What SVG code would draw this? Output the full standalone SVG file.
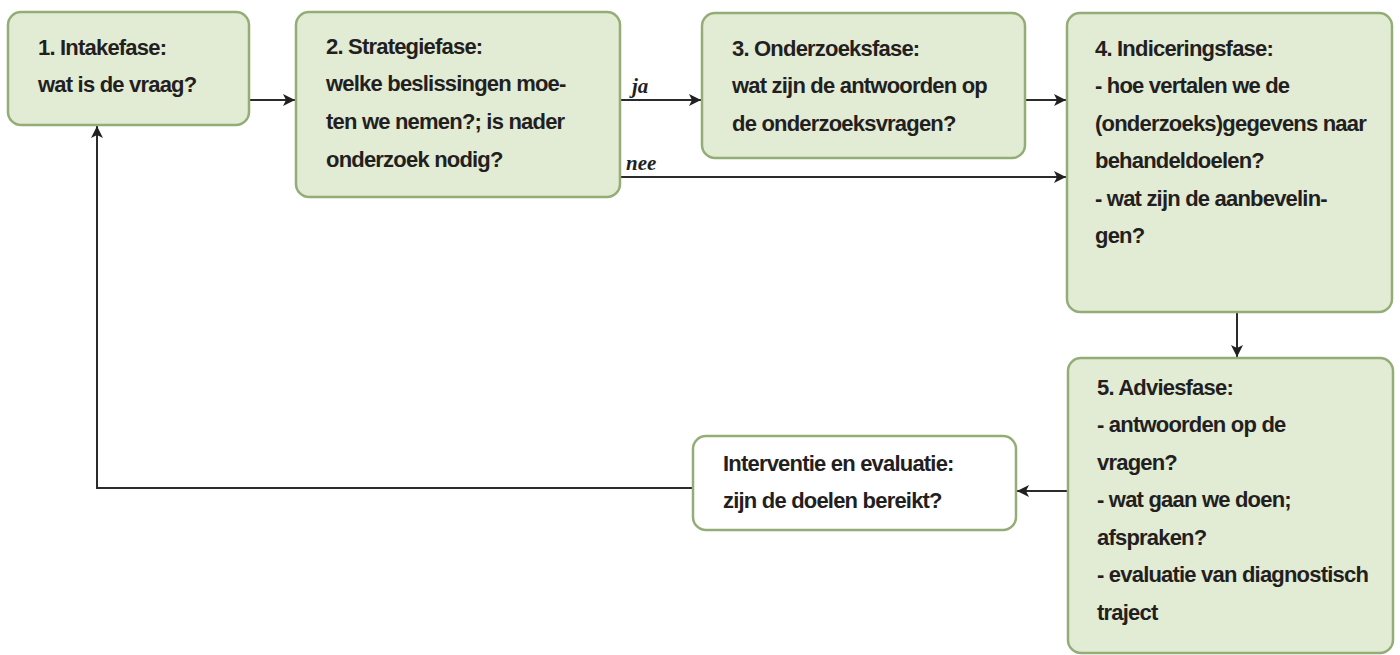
<svg xmlns="http://www.w3.org/2000/svg" width="1400" height="655" viewBox="0 0 1400 655">
<style>
.box{fill:#e2ebd4;stroke:#94ad76;stroke-width:2.5}
.wbox{fill:#ffffff;stroke:#94ad76;stroke-width:2.5}
.t{font-family:"Liberation Sans",Arial,sans-serif;font-size:22px;font-weight:bold;fill:#231f20;letter-spacing:-0.8px}
.lbl{font-family:"Liberation Serif","Times New Roman",serif;font-size:21px;font-style:italic;font-weight:bold;fill:#231f20}
.c{fill:none;stroke:#2b2b2b;stroke-width:2}
</style>
<defs>
<marker id="ah" viewBox="0 0 10 10" refX="10" refY="5" markerWidth="14" markerHeight="12" markerUnits="userSpaceOnUse" orient="auto">
<path d="M0,0 L10,5 L0,10 L2.5,5 Z" fill="#231f20"/>
</marker>
</defs>
<g id="connectors">
<line class="c" x1="249" y1="100" x2="295" y2="100" marker-end="url(#ah)"/>
<line class="c" x1="620" y1="100" x2="701" y2="100" marker-end="url(#ah)"/>
<line class="c" x1="620" y1="177" x2="1066" y2="177" marker-end="url(#ah)"/>
<line class="c" x1="1025" y1="100" x2="1066" y2="100" marker-end="url(#ah)"/>
<line class="c" x1="1237" y1="312" x2="1237" y2="357" marker-end="url(#ah)"/>
<line class="c" x1="1068" y1="491" x2="1017" y2="491" marker-end="url(#ah)"/>
<polyline class="c" points="693,488 97,488 97,126" marker-end="url(#ah)"/>
<text class="lbl" x="632" y="93">ja</text>
<text class="lbl" x="626" y="170">nee</text>
</g>
<g id="n1">
<rect class="box" x="8" y="12" width="241" height="113" rx="13"/>
<text class="t" x="38" y="55">1. Intakefase:</text>
<text class="t" x="38" y="92">wat is de vraag?</text>
</g>
<g id="n2">
<rect class="box" x="296" y="12" width="324" height="185" rx="13"/>
<text class="t" x="326" y="54">2. Strategiefase:</text>
<text class="t" x="326" y="91">welke beslissingen moe-</text>
<text class="t" x="326" y="129">ten we nemen?; is nader</text>
<text class="t" x="326" y="167">onderzoek nodig?</text>
</g>
<g id="n3">
<rect class="box" x="702" y="13" width="323" height="145" rx="13"/>
<text class="t" x="732" y="56">3. Onderzoeksfase:</text>
<text class="t" x="732" y="93">wat zijn de antwoorden op</text>
<text class="t" x="732" y="131">de onderzoeksvragen?</text>
</g>
<g id="n4">
<rect class="box" x="1067" y="13" width="325" height="299" rx="13"/>
<text class="t" x="1095" y="56">4. Indiceringsfase:</text>
<text class="t" x="1095" y="93">- hoe vertalen we de</text>
<text class="t" x="1095" y="131">(onderzoeks)gegevens naar</text>
<text class="t" x="1095" y="168">behandeldoelen?</text>
<text class="t" x="1095" y="206">- wat zijn de aanbevelin-</text>
<text class="t" x="1095" y="243">gen?</text>
</g>
<g id="n5">
<rect class="box" x="1068" y="358" width="325" height="295" rx="13"/>
<text class="t" x="1097" y="395">5. Adviesfase:</text>
<text class="t" x="1097" y="432">- antwoorden op de</text>
<text class="t" x="1097" y="470">vragen?</text>
<text class="t" x="1097" y="507">- wat gaan we doen;</text>
<text class="t" x="1097" y="545">afspraken?</text>
<text class="t" x="1097" y="582">- evaluatie van diagnostisch</text>
<text class="t" x="1097" y="620">traject</text>
</g>
<g id="n6">
<rect class="wbox" x="693" y="436" width="323" height="94" rx="13"/>
<text class="t" x="723" y="471">Interventie en evaluatie:</text>
<text class="t" x="723" y="508">zijn de doelen bereikt?</text>
</g>
</svg>
